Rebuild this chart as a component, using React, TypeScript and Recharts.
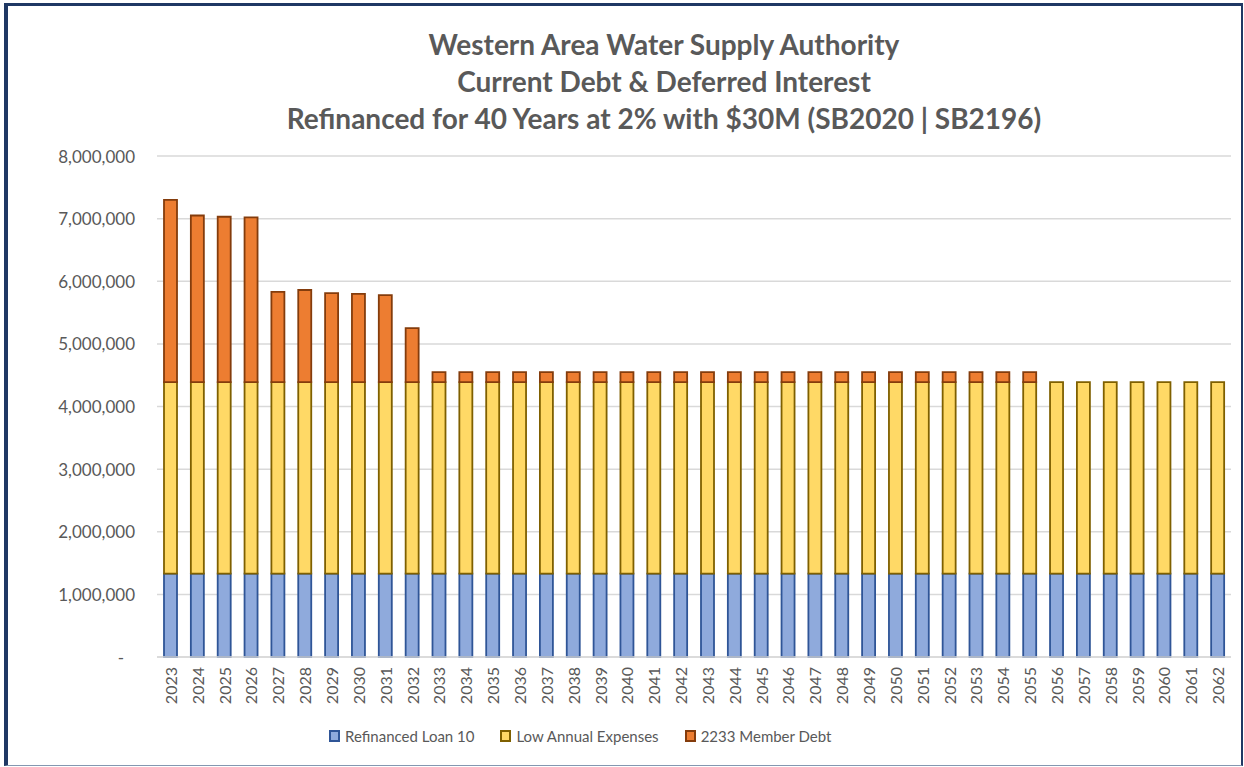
import React from "react"
import { Bar, BarChart, CartesianGrid, XAxis, YAxis } from "recharts"

const years = [
  "2023", "2024", "2025", "2026", "2027", "2028", "2029", "2030", "2031", "2032",
  "2033", "2034", "2035", "2036", "2037", "2038", "2039", "2040", "2041", "2042",
  "2043", "2044", "2045", "2046", "2047", "2048", "2049", "2050", "2051", "2052",
  "2053", "2054", "2055", "2056", "2057", "2058", "2059", "2060", "2061", "2062",
]

// Refinanced Loan 10 (flat for all 40 years)
const refinancedLoan = [
  1330000, 1330000, 1330000, 1330000, 1330000, 1330000, 1330000, 1330000, 1330000, 1330000,
  1330000, 1330000, 1330000, 1330000, 1330000, 1330000, 1330000, 1330000, 1330000, 1330000,
  1330000, 1330000, 1330000, 1330000, 1330000, 1330000, 1330000, 1330000, 1330000, 1330000,
  1330000, 1330000, 1330000, 1330000, 1330000, 1330000, 1330000, 1330000, 1330000, 1330000,
]

const lowAnnualExpenses = [
  3060000, 3060000, 3060000, 3060000, 3060000, 3060000, 3060000, 3060000, 3060000, 3060000,
  3060000, 3060000, 3060000, 3060000, 3060000, 3060000, 3060000, 3060000, 3060000, 3060000,
  3060000, 3060000, 3060000, 3060000, 3060000, 3060000, 3060000, 3060000, 3060000, 3060000,
  3060000, 3060000, 3060000, 3060000, 3060000, 3060000, 3060000, 3060000, 3060000, 3060000,
]

const memberDebt = [
  2910000, 2660000, 2640000, 2630000, 1440000, 1470000, 1420000, 1410000, 1390000, 860000,
  160000, 160000, 160000, 160000, 160000, 160000, 160000, 160000, 160000, 160000,
  160000, 160000, 160000, 160000, 160000, 160000, 160000, 160000, 160000, 160000,
  160000, 160000, 160000, 0, 0, 0, 0, 0, 0, 0,
]

const yTicks = [0, 1000000, 2000000, 3000000, 4000000, 5000000, 6000000, 7000000, 8000000]

const titleLines = [
  "Western Area Water Supply Authority",
  "Current Debt & Deferred Interest",
  "Refinanced for 40 Years at 2% with $30M (SB2020 | SB2196)",
]

const series = [
  { key: "refinanced", name: "Refinanced Loan 10", fill: "#8FAADC", stroke: "#2F5597" },
  { key: "expenses", name: "Low Annual Expenses", fill: "#FFD966", stroke: "#7F6000" },
  { key: "member", name: "2233 Member Debt", fill: "#ED7D31", stroke: "#843C0C" },
]

const data = years.map((year, i) => ({
  year,
  refinanced: refinancedLoan[i],
  expenses: lowAnnualExpenses[i],
  member: memberDebt[i],
}))

const FONT = "Lato, 'Open Sans', sans-serif"
const TEXT = "#595959"

function YTick({ x, y, payload }: any) {
  const label = payload.value === 0 ? "-" : payload.value.toLocaleString("en-US")
  return (
    <text
      x={payload.value === 0 ? x - 11 : x}
      y={y}
      textAnchor="end"
      dominantBaseline="central"
      fill={TEXT}
      fontSize={17}
      fontFamily={FONT}
    >
      {label}
    </text>
  )
}

function YearTick({ x, y, payload }: any) {
  return (
    <text
      x={x}
      y={y}
      transform={`rotate(-90, ${x}, ${y})`}
      textAnchor="end"
      dominantBaseline="central"
      fill={TEXT}
      fontSize={16}
      fontFamily={FONT}
    >
      {payload.value}
    </text>
  )
}

export default function App() {
  return (
    <div
      style={{
        position: "absolute",
        left: 0,
        top: 0,
        width: 1244,
        height: 767,
        background: "#fff",
        fontFamily: FONT,
      }}
    >
      <div
        style={{
          position: "absolute",
          left: 4,
          top: 3,
          width: 1239,
          height: 763,
          boxSizing: "border-box",
          borderLeft: "4px solid #1F3864",
          borderTop: "3px solid #1F3864",
          borderRight: "2px solid #1F3864",
          borderBottom: "1px solid #8497B0",
        }}
      />
      {titleLines.map((line, i) => (
        <div
          key={i}
          style={{
            position: "absolute",
            left: 0,
            width: 1328,
            top: 27 + i * 37,
            textAlign: "center",
            fontSize: 28,
            fontWeight: 700,
            color: TEXT,
            lineHeight: "34px",
            whiteSpace: "nowrap",
          }}
        >
          {line}
        </div>
      ))}
      <div style={{ position: "absolute", left: 0, top: 0 }}>
        <BarChart
          width={1244}
          height={767}
          data={data}
          margin={{ top: 156, right: 13, left: 0, bottom: 0 }}
          barSize={13}
        >
          <CartesianGrid vertical={false} stroke="#D9D9D9" strokeWidth={1.5} />
          <XAxis
            dataKey="year"
            height={110}
            interval={0}
            axisLine={{ stroke: "#D9D9D9", strokeWidth: 1.5 }}
            tickLine={false}
            tickSize={0}
            tickMargin={10}
            tick={<YearTick />}
          />
          <YAxis
            width={157}
            domain={[0, 8000000]}
            ticks={yTicks}
            axisLine={false}
            tickLine={false}
            tickSize={0}
            tickMargin={22}
            tick={<YTick />}
          />
          {series.map((s) => (
            <Bar
              key={s.key}
              dataKey={s.key}
              name={s.name}
              stackId="a"
              fill={s.fill}
              stroke={s.stroke}
              strokeWidth={1.8}
              isAnimationActive={false}
            />
          ))}
        </BarChart>
      </div>
      <div
        style={{
          position: "absolute",
          top: 727,
          left: 329,
          display: "flex",
          alignItems: "center",
          fontSize: 15,
          color: TEXT,
          whiteSpace: "nowrap",
        }}
      >
        {series.map((s, i) => (
          <div key={s.key} style={{ display: "flex", alignItems: "center", marginRight: i < 2 ? 26 : 0 }}>
            <span
              style={{
                display: "inline-block",
                width: 7,
                height: 8,
                background: s.fill,
                border: `2px solid ${s.stroke}`,
                marginRight: 5,
              }}
            />
            <span>{s.name}</span>
          </div>
        ))}
      </div>
    </div>
  )
}
